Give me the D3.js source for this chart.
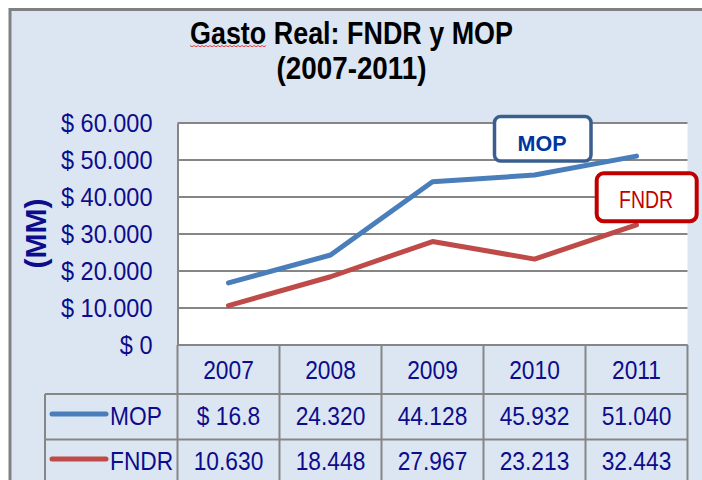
<!DOCTYPE html>
<html>
<head>
<meta charset="utf-8">
<script src="https://cdn.jsdelivr.net/npm/d3@7"></script>
<style>
  html, body { margin: 0; padding: 0; background: #ffffff; }
  svg { display: block; }
</style>
</head>
<body>
<svg id="chart" width="702" height="480"></svg>
<script>
// ---- data ----
const years = ["2007", "2008", "2009", "2010", "2011"];
const mopValues = [16800, 24320, 44128, 45932, 51040];
const fndrValues = [10630, 18448, 27967, 23213, 32443];
const mopLabels = ["$ 16.8", "24.320", "44.128", "45.932", "51.040"];
const fndrLabels = ["10.630", "18.448", "27.967", "23.213", "32.443"];
const yTickValues = [0, 10000, 20000, 30000, 40000, 50000, 60000];
const seriesNames = ["MOP", "FNDR"];
const titleLines = ["Gasto Real: FNDR y MOP", "(2007-2011)"];
const yAxisTitle = "(MM)";

// ---- layout ----
const navy = "#0c0c8c";
const gridCol = "#868686";
const blue = "#4a7ebb";
const red = "#be4b48";
const font = "'Liberation Sans', Arial, sans-serif";
const svg = d3.select("#chart");

// horizontally condense text to mimic a narrower face
function condense(sel, factor) {
  sel.each(function () {
    const w = this.getComputedTextLength();
    d3.select(this).attr("textLength", w * factor).attr("lengthAdjust", "spacingAndGlyphs");
  });
}

const plotL = 177.5, plotR = 687.5, plotT = 123, plotB = 345;
const x = d3.scaleBand().domain(years).range([plotL, plotR]).padding(0);
const y = d3.scaleLinear().domain([0, 60000]).range([plotB, plotT]);

// frame
svg.append("rect").attr("x", 10).attr("y", 9.5).attr("width", 720).attr("height", 500)
  .attr("fill", "#dce6f2").attr("stroke", "#808080").attr("stroke-width", 3);

// title
svg.append("text").attr("x", 351.5).attr("y", 44.3).attr("text-anchor", "middle")
  .attr("font-family", font).attr("font-weight", "bold").attr("font-size", 31.5)
  .attr("textLength", 323).attr("lengthAdjust", "spacingAndGlyphs")
  .attr("fill", "#000").text(titleLines[0]);
svg.append("text").attr("x", 351.5).attr("y", 79).attr("text-anchor", "middle")
  .attr("font-family", font).attr("font-weight", "bold").attr("font-size", 31.5)
  .attr("textLength", 150).attr("lengthAdjust", "spacingAndGlyphs")
  .attr("fill", "#000").text(titleLines[1]);

// spell-check squiggle under "Gasto"
(function () {
  let d = "M190,45.5";
  for (let xx = 192, k = 0; xx <= 266; xx += 2, k++) d += " L" + xx + "," + (k % 2 ? 45.5 : 46.8);
  svg.append("path").attr("d", d).attr("fill", "none").attr("stroke", "#e02020").attr("stroke-width", 0.8);
})();

// plot area
svg.append("rect").attr("x", plotL).attr("y", plotT).attr("width", plotR - plotL).attr("height", plotB - plotT)
  .attr("fill", "#ffffff");

// gridlines
svg.append("g").selectAll("line").data(yTickValues).join("line")
  .attr("x1", plotL).attr("x2", plotR)
  .attr("y1", d => y(d)).attr("y2", d => y(d))
  .attr("stroke", gridCol).attr("stroke-width", 2);

// y axis
const fmt = v => "$ " + (v === 0 ? "0" : d3.format(",")(v).replace(/,/g, "."));
const yAxis = d3.axisLeft(y).tickValues(yTickValues).tickFormat(fmt).tickSize(0).tickPadding(25);
const gy = svg.append("g").attr("transform", `translate(${plotL},0)`).call(yAxis);
gy.select(".domain").attr("stroke", gridCol).attr("stroke-width", 2);
gy.selectAll("text").attr("font-family", font)
  .attr("font-size", 25).attr("fill", navy).attr("dy", "0.34em");
condense(gy.selectAll("text"), 0.94);

// y axis title
svg.append("text").attr("transform", "translate(46,233.5) rotate(-90)")
  .attr("text-anchor", "middle")
  .attr("font-family", font).attr("font-weight", "bold")
  .attr("font-size", 30).attr("fill", navy).text(yAxisTitle);

// data table
const rowTop = [345, 394, 439.5];
const tableBottom = 486;
const legendL = 45;
const tbl = svg.append("g").attr("stroke", gridCol).attr("stroke-width", 2);
const colEdges = years.map(d => x(d)).concat([plotR]);
tbl.selectAll("line.v").data(colEdges).join("line").attr("class", "v")
  .attr("x1", d => d).attr("x2", d => d).attr("y1", rowTop[0]).attr("y2", tableBottom);
tbl.append("line").attr("x1", legendL).attr("x2", legendL).attr("y1", rowTop[1]).attr("y2", tableBottom);
tbl.append("line").attr("x1", plotL).attr("x2", plotR).attr("y1", rowTop[0]).attr("y2", rowTop[0]);
tbl.selectAll("line.h").data(rowTop.slice(1)).join("line").attr("class", "h")
  .attr("x1", legendL).attr("x2", plotR).attr("y1", d => d).attr("y2", d => d);

const cellSize = 25, cellCond = 0.91;
const hdr = svg.append("g").selectAll("text").data(years).join("text")
  .attr("x", d => x(d) + x.bandwidth() / 2).attr("y", 379)
  .attr("text-anchor", "middle").attr("font-family", font).attr("font-size", cellSize)
  .attr("fill", navy).text(d => d);
condense(hdr, cellCond);

const rowsData = [
  { name: seriesNames[0], labels: mopLabels, color: blue, cy: 416 },
  { name: seriesNames[1], labels: fndrLabels, color: red, cy: 461 }
];
rowsData.forEach(r => {
  const vals = svg.append("g").selectAll("text").data(r.labels).join("text")
    .attr("x", (d, i) => x(years[i]) + x.bandwidth() / 2).attr("y", r.cy + 9)
    .attr("text-anchor", "middle").attr("font-family", font).attr("font-size", cellSize)
    .attr("fill", navy).text(d => d);
  condense(vals, cellCond);
  svg.append("line").attr("x1", 52).attr("x2", 106).attr("y1", r.cy - 2).attr("y2", r.cy - 2)
    .attr("stroke", r.color).attr("stroke-width", 5).attr("stroke-linecap", "round");
  const lt = svg.append("text").attr("x", 110).attr("y", r.cy + 9)
    .attr("font-family", font).attr("font-size", cellSize).attr("fill", navy).text(r.name);
  condense(lt, cellCond);
});

// lines
const line = d3.line().x((d, i) => x(years[i]) + x.bandwidth() / 2).y(d => y(d));
[[mopValues, blue], [fndrValues, red]].forEach(([vals, col]) => {
  svg.append("path").datum(vals).attr("d", line).attr("fill", "none")
    .attr("stroke", col).attr("stroke-width", 5)
    .attr("stroke-linecap", "round").attr("stroke-linejoin", "round");
});

// series label boxes
svg.append("rect").attr("x", 494.5).attr("y", 116.5).attr("width", 96.5).attr("height", 44.5)
  .attr("rx", 6).attr("fill", "#ffffff").attr("stroke", "#3a5f8e").attr("stroke-width", 3.5);
svg.append("text").attr("x", 542).attr("y", 150.6).attr("text-anchor", "middle")
  .attr("font-family", font).attr("font-weight", "bold").attr("font-size", 22)
  .attr("textLength", 49).attr("lengthAdjust", "spacingAndGlyphs")
  .attr("fill", "#0035a0").text(seriesNames[0]);

svg.append("rect").attr("x", 596.7).attr("y", 173.3).attr("width", 100).attr("height", 48)
  .attr("rx", 7).attr("fill", "#ffffff").attr("stroke", "#c00000").attr("stroke-width", 4);
svg.append("text").attr("x", 646).attr("y", 208).attr("text-anchor", "middle")
  .attr("font-family", font).attr("font-size", 24.5)
  .attr("textLength", 54).attr("lengthAdjust", "spacingAndGlyphs")
  .attr("fill", "#c00000").text(seriesNames[1]);
</script>
</body>
</html>
